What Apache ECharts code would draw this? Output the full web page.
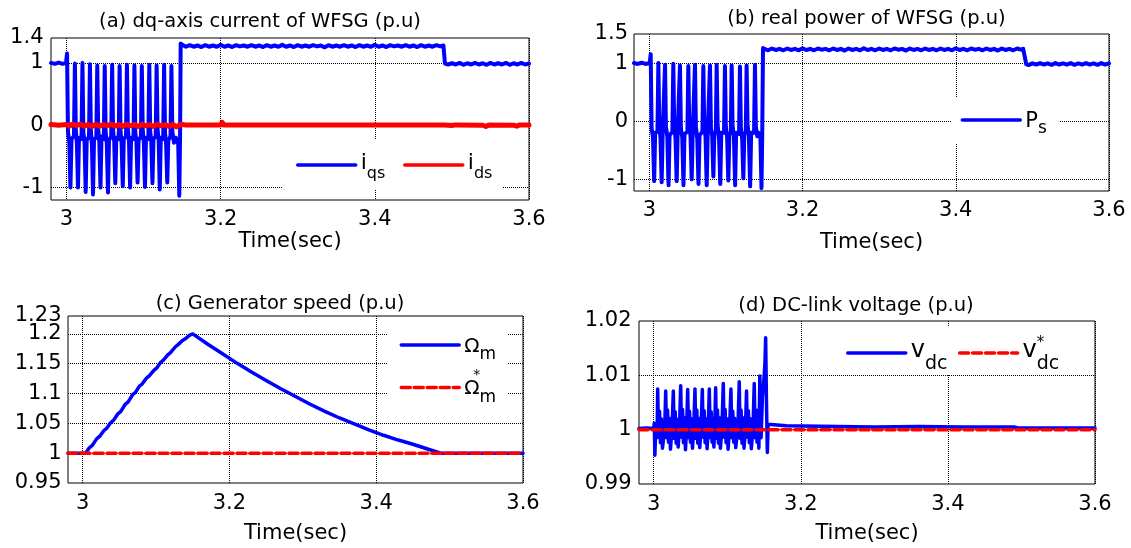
<!DOCTYPE html>
<html>
<head>
<meta charset="utf-8">
<script src="https://cdn.jsdelivr.net/npm/echarts@6/dist/echarts.min.js"></script>
<style>
  html, body { margin: 0; padding: 0; background: #fff; }
  #chart { width: 1131px; height: 548px; }
</style>
</head>
<body>
<div id="chart"></div>
<script>
// Time axis labels shared by all four panels (s)
const timeTicks = [3, 3.2, 3.4, 3.6];
// Y tick labels
const currentTicks = [-1, 0, 1, 1.4];
const powerTicks = [-1, 0, 1, 1.5];
const unitGrid = [-1, 0, 1];
const speedTicks = [0.95, 1, 1.05, 1.1, 1.15, 1.2];
const speedTopTick = [1.23];
const speedGrid = [1, 1.05, 1.1, 1.15, 1.2];
const voltageTicks = [0.99, 1, 1.01, 1.02];
const voltageGrid = [1, 1.01];

// (a) q-axis stator current [t, p.u]
const iqsPoints = [
  [2.980,1.00],[2.985,0.985],[2.990,1.005],[2.995,0.985],[2.9995,1.00],
  [3.0008,1.15],[3.0020,-0.10],[3.0038,-0.28],[3.0052,-1.00],[3.0066,-0.22],[3.0098,-0.18],
  [3.0110,0.99],[3.0122,-0.08],[3.0136,-0.30],[3.0150,-1.00],[3.0163,-0.20],[3.0196,-0.22],
  [3.0208,1.00],[3.0220,-0.12],[3.0235,-0.26],[3.0250,-1.07],[3.0263,-0.24],[3.0293,-0.18],
  [3.0305,0.98],[3.0317,-0.10],[3.0331,-0.32],[3.0345,-1.11],[3.0358,-0.22],[3.0388,-0.20],
  [3.0400,0.96],[3.0412,-0.06],[3.0427,-0.28],[3.0442,-1.00],[3.0455,-0.18],[3.0485,-0.22],
  [3.0497,0.95],[3.0509,-0.12],[3.0524,-0.30],[3.0539,-1.08],[3.0552,-0.24],[3.0581,-0.18],
  [3.0593,0.97],[3.0605,-0.08],[3.0620,-0.26],[3.0634,-0.93],[3.0647,-0.20],[3.0678,-0.22],
  [3.0690,0.95],[3.0702,-0.10],[3.0716,-0.30],[3.0731,-0.98],[3.0744,-0.22],[3.0773,-0.18],
  [3.0785,0.97],[3.0797,-0.06],[3.0812,-0.28],[3.0826,-1.00],[3.0839,-0.20],[3.0870,-0.22],
  [3.0882,0.96],[3.0894,-0.12],[3.0908,-0.26],[3.0923,-0.92],[3.0936,-0.24],[3.0966,-0.18],
  [3.0978,0.95],[3.0990,-0.08],[3.1005,-0.30],[3.1019,-0.99],[3.1032,-0.20],[3.1063,-0.22],
  [3.1075,0.97],[3.1087,-0.10],[3.1101,-0.28],[3.1116,-0.93],[3.1129,-0.22],[3.1158,-0.18],
  [3.1170,0.96],[3.1182,-0.06],[3.1197,-0.26],[3.1211,-1.03],[3.1224,-0.20],[3.1255,-0.22],
  [3.1267,0.97],[3.1279,-0.12],[3.1293,-0.30],[3.1308,-0.92],[3.1321,-0.24],[3.1350,-0.18],
  [3.1362,0.95],[3.1374,-0.10],[3.1395,-0.28],[3.1420,-0.20],[3.1450,-0.30],[3.1464,-1.13],[3.1474,-0.20],
  [3.1482,1.31],[3.152,1.28],[3.155,1.26],[3.160,1.285],[3.165,1.26],[3.170,1.28],[3.175,1.255],
  [3.180,1.285],[3.185,1.26],[3.190,1.28],[3.195,1.26],[3.200,1.29],[3.205,1.26],[3.210,1.28],
  [3.215,1.255],[3.220,1.285],[3.225,1.265],[3.230,1.28],[3.235,1.26],[3.240,1.285],[3.245,1.26],
  [3.250,1.28],[3.255,1.255],[3.260,1.285],[3.265,1.26],[3.270,1.28],[3.275,1.26],[3.280,1.29],
  [3.285,1.26],[3.290,1.28],[3.295,1.255],[3.300,1.285],[3.305,1.26],[3.310,1.28],[3.315,1.26],
  [3.320,1.285],[3.325,1.265],[3.330,1.28],[3.335,1.25],[3.340,1.285],[3.345,1.26],[3.350,1.28],
  [3.355,1.26],[3.360,1.285],[3.365,1.26],[3.370,1.28],[3.375,1.255],[3.380,1.285],[3.385,1.26],
  [3.390,1.28],[3.395,1.26],[3.400,1.29],[3.405,1.26],[3.410,1.28],[3.415,1.255],[3.420,1.285],
  [3.425,1.265],[3.430,1.28],[3.435,1.26],[3.440,1.285],[3.445,1.26],[3.450,1.28],[3.455,1.255],
  [3.460,1.285],[3.465,1.26],[3.470,1.28],[3.475,1.26],[3.480,1.285],[3.485,1.265],[3.489,1.28],
  [3.491,0.99],[3.495,0.975],[3.500,0.995],[3.505,0.975],[3.510,1.00],[3.515,0.97],[3.520,0.995],
  [3.525,0.975],[3.530,1.00],[3.535,0.975],[3.540,0.995],[3.545,0.97],[3.550,1.00],[3.555,0.975],
  [3.560,0.995],[3.565,0.975],[3.570,1.00],[3.575,0.97],[3.580,0.995],[3.585,0.975],[3.590,1.00],
  [3.595,0.975],[3.600,0.99]
];

// (a) d-axis stator current [t, p.u]
const idsPoints = [
  [2.980,0.01],[2.990,0.00],[3.000,0.01],[3.004,-0.015],[3.008,0.02],[3.013,-0.01],[3.018,0.02],
  [3.023,-0.015],[3.028,0.01],[3.033,-0.02],[3.038,0.015],[3.043,-0.015],[3.048,0.01],[3.053,-0.01],
  [3.058,0.02],[3.063,-0.015],[3.068,0.01],[3.073,-0.02],[3.078,0.015],[3.083,-0.01],[3.088,0.01],
  [3.093,-0.02],[3.098,0.015],[3.103,-0.01],[3.108,0.01],[3.113,-0.02],[3.118,0.015],[3.123,-0.01],
  [3.128,0.01],[3.133,-0.02],[3.138,0.015],[3.143,-0.025],[3.148,0.015],[3.155,0.005],[3.200,0.005],
  [3.202,0.045],[3.204,0.005],[3.300,0.005],[3.400,0.005],[3.490,0.005],[3.500,-0.005],[3.504,0.005],
  [3.540,0.00],[3.544,-0.02],[3.548,0.005],[3.580,0.00],[3.584,-0.015],[3.588,0.005],[3.600,0.005]
];

// (b) stator real power [t, p.u]
const psPoints = [
  [2.980,1.00],[2.985,0.985],[2.990,1.005],[2.995,0.985],[3.0005,1.00],
  [3.0018,1.15],[3.0030,-0.12],[3.0048,-0.28],[3.0063,-1.03],[3.0076,-0.20],[3.0106,-0.18],
  [3.0118,1.00],[3.0130,-0.06],[3.0146,-0.30],[3.0161,-1.05],[3.0174,-0.22],[3.0194,-0.20],
  [3.0205,0.97],[3.0217,-0.10],[3.0235,-0.26],[3.0251,-1.10],[3.0264,-0.24],[3.0301,-0.18],
  [3.0313,0.99],[3.0325,-0.08],[3.0342,-0.30],[3.0357,-1.03],[3.0370,-0.20],[3.0389,-0.22],
  [3.0400,0.96],[3.0412,-0.12],[3.0430,-0.28],[3.0446,-1.10],[3.0459,-0.22],[3.0497,-0.18],
  [3.0509,0.95],[3.0521,-0.06],[3.0538,-0.26],[3.0553,-1.00],[3.0566,-0.20],[3.0585,-0.20],
  [3.0596,0.97],[3.0608,-0.10],[3.0626,-0.30],[3.0642,-1.08],[3.0655,-0.24],[3.0693,-0.18],
  [3.0705,0.95],[3.0717,-0.08],[3.0734,-0.28],[3.0749,-1.10],[3.0762,-0.20],[3.0781,-0.22],
  [3.0792,0.96],[3.0804,-0.12],[3.0821,-0.26],[3.0836,-0.95],[3.0849,-0.22],[3.0868,-0.18],
  [3.0879,0.97],[3.0891,-0.06],[3.0910,-0.30],[3.0926,-1.08],[3.0939,-0.20],[3.0975,-0.20],
  [3.0987,0.95],[3.0999,-0.10],[3.1016,-0.28],[3.1031,-1.02],[3.1044,-0.24],[3.1064,-0.18],
  [3.1075,0.96],[3.1087,-0.08],[3.1104,-0.26],[3.1120,-1.10],[3.1133,-0.20],[3.1171,-0.22],
  [3.1183,0.94],[3.1195,-0.12],[3.1212,-0.30],[3.1227,-0.98],[3.1240,-0.22],[3.1259,-0.18],
  [3.1270,0.96],[3.1282,-0.06],[3.1300,-0.28],[3.1316,-1.12],[3.1329,-0.20],[3.1367,-0.20],
  [3.1379,0.97],[3.1391,-0.10],[3.1410,-0.26],[3.1428,-0.20],[3.1450,-0.28],[3.1464,-1.15],[3.1474,-0.20],
  [3.1484,1.26],[3.152,1.235],[3.155,1.22],[3.160,1.25],[3.165,1.225],[3.170,1.245],[3.175,1.22],
  [3.180,1.25],[3.185,1.225],[3.190,1.245],[3.195,1.22],[3.200,1.255],[3.205,1.225],[3.210,1.245],
  [3.215,1.22],[3.220,1.25],[3.225,1.23],[3.230,1.245],[3.235,1.22],[3.240,1.25],[3.245,1.225],
  [3.250,1.245],[3.255,1.215],[3.260,1.25],[3.265,1.225],[3.270,1.245],[3.275,1.22],[3.280,1.255],
  [3.285,1.225],[3.290,1.245],[3.295,1.22],[3.300,1.25],[3.305,1.225],[3.310,1.245],[3.315,1.22],
  [3.320,1.25],[3.325,1.23],[3.330,1.245],[3.335,1.215],[3.340,1.25],[3.345,1.225],[3.350,1.245],
  [3.355,1.22],[3.360,1.25],[3.365,1.225],[3.370,1.245],[3.375,1.22],[3.380,1.25],[3.385,1.225],
  [3.390,1.245],[3.395,1.22],[3.400,1.255],[3.405,1.225],[3.410,1.245],[3.415,1.22],[3.420,1.25],
  [3.425,1.23],[3.430,1.245],[3.435,1.22],[3.440,1.25],[3.445,1.225],[3.450,1.245],[3.455,1.215],
  [3.460,1.25],[3.465,1.225],[3.470,1.245],[3.475,1.22],[3.480,1.25],[3.485,1.23],[3.488,1.245],
  [3.492,0.98],[3.495,0.965],[3.500,0.995],[3.505,0.975],[3.510,1.00],[3.515,0.975],[3.520,0.995],
  [3.525,0.97],[3.530,1.00],[3.535,0.975],[3.540,0.995],[3.545,0.975],[3.550,1.00],[3.555,0.97],
  [3.560,0.995],[3.565,0.975],[3.570,1.00],[3.575,0.975],[3.580,0.995],[3.585,0.97],[3.590,1.00],
  [3.595,0.975],[3.600,0.995]
];

// (c) generator speed and its reference [t, p.u]
const omegaPoints = [
  [2.980,1.000],[3.004,1.000],[3.009,1.009],[3.013,1.013],[3.019,1.024],[3.023,1.028],
  [3.029,1.038],[3.033,1.042],[3.038,1.051],[3.042,1.055],[3.048,1.066],[3.052,1.070],
  [3.058,1.082],[3.062,1.086],[3.068,1.098],[3.072,1.102],[3.077,1.112],[3.081,1.116],
  [3.087,1.126],[3.091,1.130],[3.097,1.139],[3.101,1.143],[3.106,1.152],[3.110,1.156],
  [3.116,1.165],[3.120,1.169],[3.126,1.178],[3.130,1.182],[3.136,1.189],[3.140,1.192],
  [3.146,1.198],[3.150,1.200],
  [3.170,1.183],[3.190,1.167],[3.210,1.151],[3.230,1.136],[3.250,1.122],[3.270,1.108],
  [3.290,1.095],[3.310,1.082],[3.330,1.070],[3.350,1.059],[3.370,1.049],[3.390,1.039],
  [3.410,1.030],[3.430,1.022],[3.450,1.015],[3.470,1.007],[3.488,1.000],[3.600,1.000]
];
const omegaRefPoints = [[2.98,1.0],[3.6,1.0]];

// (d) DC-link voltage and its reference [t, p.u]
const vdcPoints = [
  [2.980,1.0002],[2.990,1.0003],[3.000,1.0002],[3.0008,1.0012],[3.0016,0.9953],[3.0028,1.0010],
  [3.0040,0.9985],[3.0048,1.0002],
  [3.0054,1.0075],[3.0066,0.9986],[3.0079,1.0034],[3.0092,0.9976],[3.0104,1.0020],[3.0119,0.9966],[3.0150,1.0004],
  [3.0163,1.0071],[3.0175,0.9985],[3.0188,1.0036],[3.0201,0.9977],[3.0213,1.0021],[3.0228,0.9964],[3.0250,1.0005],
  [3.0267,1.0071],[3.0279,0.9984],[3.0292,1.0033],[3.0305,0.9975],[3.0317,1.0019],[3.0332,0.9968],[3.0350,1.0004],
  [3.0367,1.0081],[3.0379,0.9986],[3.0392,1.0037],[3.0405,0.9976],[3.0417,1.0022],[3.0432,0.9963],[3.0448,1.0005],
  [3.0462,1.0074],[3.0474,0.9985],[3.0487,1.0034],[3.0500,0.9977],[3.0512,1.0020],[3.0527,0.9966],[3.0545,1.0004],
  [3.0561,1.0075],[3.0573,0.9984],[3.0586,1.0036],[3.0599,0.9975],[3.0611,1.0021],[3.0626,0.9967],[3.0645,1.0005],
  [3.0661,1.0074],[3.0673,0.9986],[3.0686,1.0035],[3.0699,0.9976],[3.0711,1.0020],[3.0726,0.9965],[3.0741,1.0004],
  [3.0756,1.0075],[3.0768,0.9985],[3.0781,1.0033],[3.0794,0.9977],[3.0806,1.0021],[3.0818,0.9968],[3.0830,1.0005],
  [3.0842,1.0077],[3.0854,0.9984],[3.0867,1.0036],[3.0880,0.9975],[3.0892,1.0022],[3.0907,0.9966],[3.0928,1.0004],
  [3.0946,1.0085],[3.0958,0.9986],[3.0971,1.0037],[3.0984,0.9976],[3.0996,1.0020],[3.1011,0.9964],[3.1032,1.0005],
  [3.1050,1.0075],[3.1062,0.9985],[3.1075,1.0034],[3.1088,0.9977],[3.1100,1.0021],[3.1115,0.9967],[3.1145,1.0004],
  [3.1163,1.0088],[3.1175,0.9984],[3.1188,1.0036],[3.1201,0.9975],[3.1213,1.0022],[3.1228,0.9966],[3.1248,1.0005],
  [3.1262,1.0071],[3.1274,0.9986],[3.1287,1.0035],[3.1300,0.9976],[3.1312,1.0020],[3.1327,0.9965],[3.1350,1.0004],
  [3.1367,1.0085],[3.1379,0.9985],[3.1392,1.0036],[3.1405,0.9977],[3.1417,1.0021],[3.1430,0.9966],
  [3.1443,1.0099],[3.1460,0.9985],[3.1478,1.0060],[3.1500,1.0095],[3.1512,1.0120],[3.1522,1.0169],
  [3.1532,1.0060],[3.1545,0.9958],[3.1555,1.0010],[3.1570,1.0007],
  [3.180,1.0007],[3.182,1.0005],[3.250,1.0006],[3.300,1.0005],[3.360,1.0006],[3.361,1.0009],
  [3.362,1.0005],[3.420,1.0005],[3.490,1.0005],[3.495,1.0003],[3.550,1.0003],[3.580,1.0003],
  [3.581,1.0006],[3.582,1.0003],[3.600,1.0003]
];
const vdcRefPoints = [[2.98,1.0],[3.6,1.0]];

const FONT = "'DejaVu Sans', sans-serif";
const BLUE = '#0000ff';
const RED = '#ff0000';

// Legend texts with sub/superscripts built as rich-text tokens
const legendText = {
  iqs: '{m|i}{s|qs}',
  ids: '{m|i}{s|ds}',
  Ps: '{m|P}{s|s}',
  Om: '{m|\u03A9}{s|m}',
  OmRef: '{st|  *}{m|\u03A9}{s|m}',
  vdc: '{m|v}{s|dc}',
  vdcRef: '{m|v}{st|*}{s|dc}'
};

function tok(size, lh, top, bottom, extra) {
  return Object.assign({ fontFamily: FONT, fontSize: size, lineHeight: lh, color: '#000',
    padding: [top, 0, bottom, 0] }, extra || {});
}
const richA = { m: tok(22, 26, 7.7, 10.3), s: tok(16, 20, 20.7, 3.3) };
const richB = { m: tok(21, 25, 10.6, 8.4), s: tok(17, 21, 20.4, 2.6) };
const richC = { m: tok(20, 24, 11.3, 8.7), s: tok(17, 21, 21.1, 1.9),
  st: tok(14, 18, 0.4, 25.6, { width: 0 }) };
const richD = { m: tok(24, 28, 6.1, 9.9), s: tok(19, 23, 21.1, 0),
  st: tok(15, 19, 2.5, 22.5, { width: 0 }) };

function makeLegend(names, left, top, padding, orient, gap, rich) {
  return {
    data: names, left: left, top: top, padding: padding, orient: orient,
    itemGap: gap, itemWidth: 58, itemHeight: 1,
    backgroundColor: '#fff', borderWidth: 0, selectedMode: false,
    lineStyle: { width: 3.5 },
    itemStyle: { opacity: 0 },
    formatter: function (n) { return legendText[n]; },
    textStyle: { fontFamily: FONT, color: '#000', rich: rich }
  };
}

const gridBase = { show: true, borderColor: '#000', borderWidth: 1, backgroundColor: 'transparent',
  containLabel: false, outerBoundsMode: 'none' };
const grids = [
  Object.assign({ left: 51, top: 38, width: 478, height: 162 }, gridBase),
  Object.assign({ left: 634, top: 34, width: 475, height: 157 }, gridBase),
  Object.assign({ left: 68, top: 316, width: 455, height: 167 }, gridBase),
  Object.assign({ left: 639, top: 321, width: 456, height: 163 }, gridBase)
];

const gridLine = { show: true, lineStyle: { color: '#000', width: 1, type: [1, 1] } };
const labelStyle = { fontFamily: FONT, fontSize: 21, color: '#000', showMinLabel: true, showMaxLabel: true };

function timeAxis(idx, margin, nameGap) {
  return {
    type: 'value', gridIndex: idx, min: 2.98, max: 3.6,
    axisLine: { show: false },
    axisTick: { show: false, customValues: timeTicks },
    axisLabel: Object.assign({ customValues: timeTicks, margin: margin }, labelStyle),
    splitLine: gridLine,
    name: 'Time(sec)', nameLocation: 'middle', nameGap: nameGap, nameMoveOverlap: false,
    nameTextStyle: { fontFamily: FONT, fontSize: 21, color: '#000' }
  };
}

function valueAxis(idx, min, max, labels, lines, margin) {
  return {
    type: 'value', gridIndex: idx, min: min, max: max, position: 'left',
    axisLine: { show: false },
    axisTick: { show: false, customValues: lines },
    axisLabel: Object.assign({ customValues: labels, margin: margin }, labelStyle),
    splitLine: gridLine
  };
}

// A label-only companion axis carries the top speed value so it can sit over "1.2"
const speedTopAxis = {
  type: 'value', gridIndex: 2, min: 0.95, max: 1.23, position: 'left', offset: 0,
  axisLine: { show: false }, axisTick: { show: false, customValues: speedTopTick },
  axisLabel: Object.assign({ customValues: speedTopTick, margin: 6.5 }, labelStyle),
  splitLine: { show: false }
};

function lineSeries(name, data, xi, yi, color, width, dash) {
  return {
    type: 'line', name: name, data: data, xAxisIndex: xi, yAxisIndex: yi,
    symbol: 'none', showSymbol: false, silent: true,
    lineStyle: { color: color, width: width, type: dash || 'solid', cap: 'round', join: 'round' },
    itemStyle: { color: color }
  };
}

const option = {
  animation: false,
  backgroundColor: '#fff',
  title: [
    { text: '(a) dq-axis current of WFSG (p.u)', left: 260, top: 11.5 },
    { text: '(b) real power of WFSG (p.u)', left: 866.5, top: 8.5 },
    { text: '(c) Generator speed (p.u)', left: 280, top: 294 },
    { text: '(d) DC-link voltage (p.u)', left: 856, top: 295.5 }
  ].map(function (t) {
    return Object.assign(t, { textAlign: 'center', padding: 0,
      textStyle: { fontFamily: FONT, fontSize: 19.5, fontWeight: 'normal', color: '#000' } });
  }),
  legend: [
    makeLegend(['iqs', 'ids'], 282, 140, [5, 10, 5, 14], 'horizontal', 17.7, richA),
    makeLegend(['Ps'], 951.5, 97, [3, 12, 3, 9], 'horizontal', 10, richB),
    makeLegend(['Om', 'OmRef'], 387.5, 324, [1, 12, 1, 12], 'vertical', 2.6, richC),
    makeLegend(['vdc', 'vdcRef'], 832, 327, [6, 8, 2, 14], 'horizontal', 10.4, richD)
  ],
  grid: grids,
  xAxis: [timeAxis(0, 9.5, 31), timeAxis(1, 9.5, 41.5), timeAxis(2, 10.5, 40), timeAxis(3, 10.5, 39.5)],
  yAxis: [
    valueAxis(0, -1.2, 1.4, currentTicks, unitGrid, 7.5),
    valueAxis(1, -1.2, 1.5, powerTicks, unitGrid, 6),
    valueAxis(2, 0.95, 1.23, speedTicks, speedGrid, 6.5),
    valueAxis(3, 0.99, 1.02, voltageTicks, voltageGrid, 7.5),
    speedTopAxis
  ],
  series: [
    lineSeries('iqs', iqsPoints, 0, 0, BLUE, 4),
    lineSeries('ids', idsPoints, 0, 0, RED, 5),
    lineSeries('Ps', psPoints, 1, 1, BLUE, 4),
    lineSeries('Om', omegaPoints, 2, 2, BLUE, 3.5),
    lineSeries('OmRef', omegaRefPoints, 2, 2, RED, 3.5, [9, 4]),
    lineSeries('vdc', vdcPoints, 3, 3, BLUE, 3.5),
    lineSeries('vdcRef', vdcRefPoints, 3, 3, RED, 3.5, [9, 4])
  ]
};

const chart = echarts.init(document.getElementById('chart'), null, { renderer: 'canvas' });
chart.setOption(option);
</script>
</body>
</html>
